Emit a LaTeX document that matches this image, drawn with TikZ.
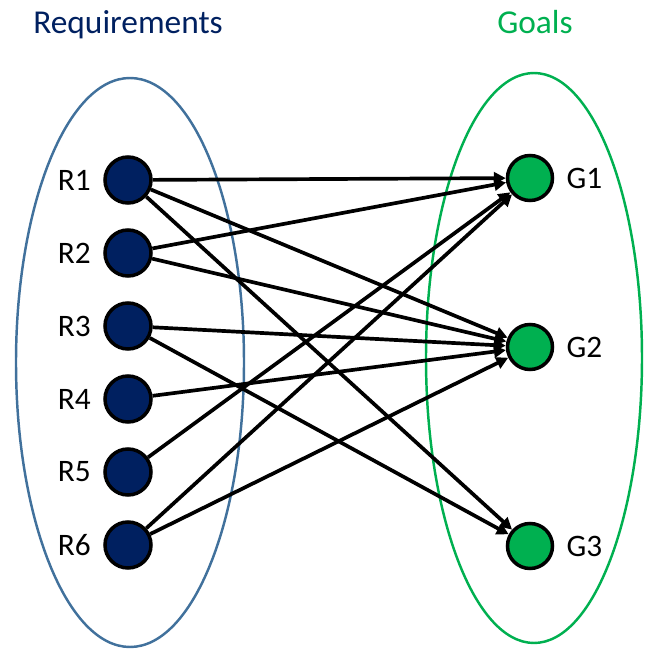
\documentclass[tikz,border=0pt]{standalone}
\usepackage{fontspec}
\setmainfont{Carlito}
\usetikzlibrary{arrows.meta}
\definecolor{reqblue}{HTML}{002060}
\definecolor{goalgreen}{HTML}{00B050}
\definecolor{rimblue}{HTML}{41719C}
\tikzset{
  req/.style={circle, draw=black, line width=1pt, fill=reqblue,
    minimum size=0.46cm, inner sep=0pt},
  goal/.style={circle, draw=black, line width=1pt, fill=goalgreen,
    minimum size=0.45cm, inner sep=0pt},
  link/.style={line width=1.05pt, -{Triangle[length=3.4pt,width=3.4pt]}},
  title/.style={anchor=base, font=\fontsize{9.5}{11}\selectfont},
}
\begin{document}
\begin{tikzpicture}
  [font=\fontsize{8.9}{10}\selectfont]
  \useasboundingbox (0,0) rectangle (6.46,6.49);

  % groups
  \draw[rimblue, line width=0.7pt] (1.30,2.865) ellipse [x radius=1.14, y radius=2.845];
  \draw[goalgreen, line width=0.7pt] (5.34,2.91) ellipse [x radius=1.08, y radius=2.85];
  \node[title, text=reqblue] (reqtitle) at (1.28,6.15) {Requirements};
  \node[title, text=goalgreen] (goaltitle) at (5.35,6.15) {Goals};

  % requirements
  \node[req, label=left:R1] (r1) at (1.28,4.69) {};
  \node[req, label=left:R2] (r2) at (1.28,3.96) {};
  \node[req, label=left:R3] (r3) at (1.28,3.23) {};
  \node[req, label=left:R4] (r4) at (1.28,2.50) {};
  \node[req, label=left:R5] (r5) at (1.28,1.77) {};
  \node[req, label=left:R6] (r6) at (1.28,1.04) {};

  % goals
  \node[goal, label=right:G1] (g1) at (5.30,4.71) {};
  \node[goal, label=right:G2] (g2) at (5.30,3.02) {};
  \node[goal, label=right:G3] (g3) at (5.30,1.03) {};

  % links
  \draw[link] (r1) -- (g1);
  \draw[link] (r1) -- (g2);
  \draw[link] (r1) -- (g3);
  \draw[link] (r2) -- (g1);
  \draw[link] (r2) -- (g2);
  \draw[link] (r3) -- (g2);
  \draw[link] (r3) -- (g3);
  \draw[link] (r4) -- (g2);
  \draw[link] (r5) -- (g1);
  \draw[link] (r6) -- (g1);
  \draw[link] (r6) -- (g2);
\end{tikzpicture}
\end{document}
